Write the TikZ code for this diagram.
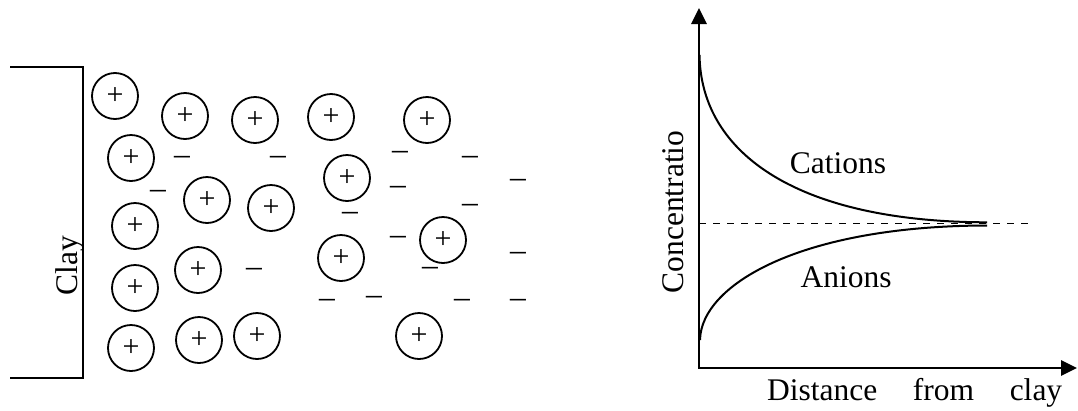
\documentclass[tikz,border=0pt]{standalone}
\usepackage{fontspec}
\setmainfont{Liberation Serif}
\usetikzlibrary{arrows.meta}
\begin{document}
\begin{tikzpicture}[x=1pt,y=-1pt,
  ion/.style={circle,draw,line width=1.8pt,minimum size=46pt,inner sep=0pt,font=\fontsize{30}{30}\selectfont},
  neg/.style={anchor=base,yshift=-7.5pt,inner sep=0pt,font=\fontsize{31.5}{36}\selectfont},
  lbl/.style={inner sep=0pt,font=\fontsize{31.5}{36}\selectfont},
  axisline/.style={line width=2.8pt,{Triangle[length=16pt,width=15pt]}-{Triangle[length=16pt,width=15pt]}},
  curve/.style={line width=2pt},
  wall/.style={line width=2.2pt},
  ref/.style={line width=1.6pt,dash pattern=on 7pt off 7pt},
]
\useasboundingbox (0,0) rectangle (1078,410);

% clay wall
\coordinate (w1) at (10,67);
\coordinate (w2) at (83,67);
\coordinate (w3) at (83,378);
\coordinate (w4) at (10,378);
\draw[wall] (w1) -- (w2) -- (w3) -- (w4);
\node[lbl,rotate=90,anchor=base] (clay) at (77,266) {Clay};

% cations
\foreach \n/\x/\y in {c1/115/96, c2/185/116, c3/255/120, c4/131/158, c5/207/200,
  c6/271/208, c7/135/226, c8/135/288, c9/198/270, c10/131/348, c11/199/340,
  c12/257/336, c13/331/117, c14/427/120, c15/347/178, c16/341/258,
  c17/443/240, c18/419/336}
  \node[ion] (\n) at (\x,\y) {+};

% anions
\foreach \n/\x/\y in {m1/182/157, m2/278/157, m3/158/191, m4/254/269, m5/400/152,
  m6/470/157, m7/518/180, m8/398/187, m9/470/205, m10/350/213, m11/398/237,
  m12/430/268, m13/518/253, m14/327/300, m15/374/297, m16/462/300, m17/518/300}
  \node[neg] (\n) at (\x,\y) {\textendash};

% graph
\coordinate (O) at (699,368);
\coordinate (ytip) at (699,8);
\coordinate (xtip) at (1077,368);
\draw[axisline] (ytip) -- (O) -- (xtip);

\coordinate (d0) at (699,223.5);
\coordinate (d1) at (1028,223.5);
\draw[ref] (d0) -- (d1);

\coordinate (cs) at (699.5,55);
\coordinate (ce) at (987,222.3);
\coordinate (as) at (700,340);
\coordinate (ae) at (987,225.5);
\draw[curve] (cs) .. controls (701,155) and (800,222) .. (ce);
\draw[curve] (as) .. controls (701,285) and (800,225.8) .. (ae);

\node[lbl,anchor=base] (cat) at (838,173) {Cations};
\node[lbl,anchor=base] (an) at (846,287) {Anions};
\node[lbl,rotate=90,anchor=base] (conc) at (683,212) {Concentratio};
\node[lbl,anchor=base west] (dist) at (767,400) {\makebox[295pt][s]{Distance from clay}};
\end{tikzpicture}
\end{document}
